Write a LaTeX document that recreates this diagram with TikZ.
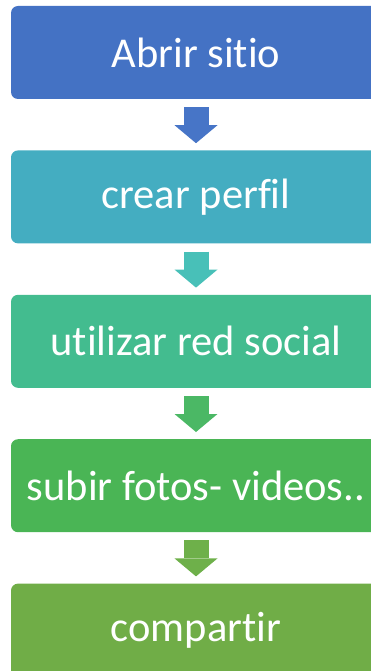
\documentclass[tikz,border=0pt]{standalone}
\usepackage{fontspec}
\setmainfont{Carlito}[Ligatures={NoCommon,NoContextual}]
\usepackage{tikz}
\usetikzlibrary{positioning, arrows.meta}

\definecolor{stepOne}{HTML}{4472C4}
\definecolor{stepTwo}{HTML}{44ADC1}
\definecolor{stepThree}{HTML}{43BC8F}
\definecolor{stepFour}{HTML}{4AB555}
\definecolor{stepFive}{HTML}{70AD47}
\definecolor{arrowOne}{HTML}{4775C7}
\definecolor{arrowTwo}{HTML}{48C0B8}
\definecolor{arrowThree}{HTML}{4BB865}
\definecolor{arrowFour}{HTML}{6EB04A}

\begin{document}
\begin{tikzpicture}[
  font=\fontsize{42.5}{50}\selectfont,
  stage/.style={
    rectangle,
    rounded corners=7pt,
    minimum width=370pt,
    minimum height=93pt,
    inner sep=0pt,
    text=white,
    fill=#1,
  },
  flow/.style={
    draw=#1,
    line width=25pt,
    shorten <=8pt,
    shorten >=7pt,
    -{Triangle[width=43pt, length=18pt, line width=0pt, fill=#1]},
  },
  node distance=51pt,
]
\useasboundingbox (0,0) rectangle (371pt,-671pt);

% --- Stages ---
\node[stage=stepOne] (Open) at (196pt,-52.5pt) {Abrir sitio};
\node[stage=stepTwo, below=of Open] (Profile) {crear perfil};
\node[stage=stepThree, below=of Profile] (Network) {utilizar red social};
\node[stage=stepFour, below=of Network] (Upload) {subir fotos- videos..};
\node[stage=stepFive, below=of Upload] (Share) {compartir};

% --- Block arrows between stages ---
\draw[flow=arrowOne] (Open) -- (Profile);
\draw[flow=arrowTwo] (Profile) -- (Network);
\draw[flow=arrowThree] (Network) -- (Upload);
\draw[flow=arrowFour] (Upload) -- (Share);
\end{tikzpicture}
\end{document}
